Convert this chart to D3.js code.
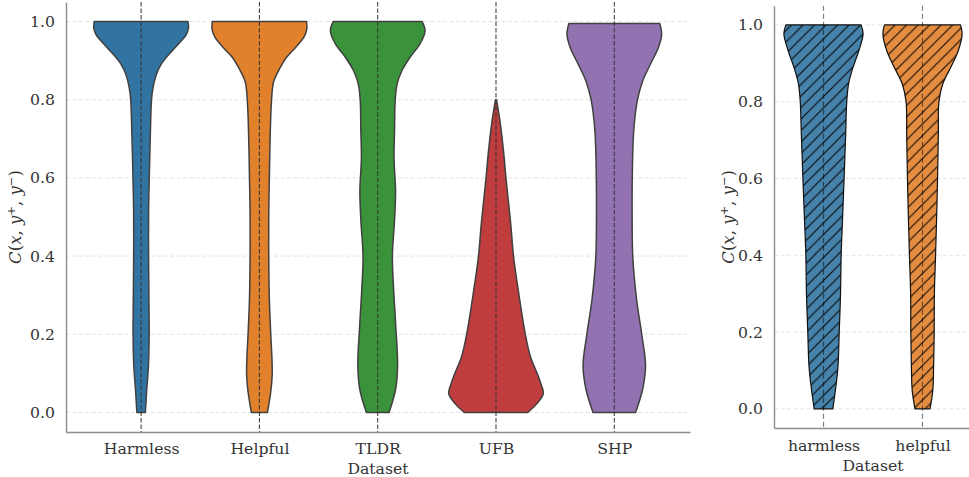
<!DOCTYPE html>
<html>
<head>
<meta charset="utf-8">
<script src="https://cdn.jsdelivr.net/npm/d3@7"></script>
<style>
  body { margin: 0; background: #fff; }
  svg { display: block; }
  text { font-family: "DejaVu Serif", serif; }
</style>
</head>
<body>
<svg id="chart" width="969" height="477"></svg>
<script>
// ---------------- data ----------------
const leftCategories = ["Harmless", "Helpful", "TLDR", "UFB", "SHP"];
const rightCategories = ["harmless", "helpful"];
const yTicks = [0.0, 0.2, 0.4, 0.6, 0.8, 1.0];

// Density profiles: [C value, density relative to the widest point of the violin]
const harmlessDensity = [[0.00,0.09],[0.06,0.12],[0.12,0.155],[0.20,0.17],[0.29,0.165],[0.40,0.158],[0.51,0.158],[0.60,0.172],[0.72,0.197],[0.80,0.22],[0.83,0.25],[0.864,0.32],[0.89,0.42],[0.915,0.58],[0.94,0.77],[0.966,0.95],[0.983,1.0],[1.0,0.99]];
const helpfulDensity = [[0.00,0.17],[0.053,0.24],[0.096,0.27],[0.137,0.265],[0.20,0.24],[0.29,0.21],[0.40,0.197],[0.506,0.197],[0.60,0.21],[0.72,0.23],[0.80,0.257],[0.846,0.30],[0.88,0.43],[0.908,0.57],[0.933,0.76],[0.96,0.94],[0.98,1.0],[1.0,0.995]];
const tldrDensity = [[0.00,0.24],[0.06,0.38],[0.12,0.42],[0.224,0.38],[0.318,0.335],[0.40,0.31],[0.49,0.355],[0.566,0.377],[0.65,0.345],[0.72,0.356],[0.80,0.37],[0.84,0.41],[0.874,0.51],[0.908,0.68],[0.942,0.89],[0.976,1.0],[1.0,0.94]];
const ufbDensity = [[0.00,0.67],[0.022,0.86],[0.048,1.0],[0.073,0.95],[0.10,0.87],[0.142,0.73],[0.20,0.62],[0.313,0.47],[0.40,0.37],[0.484,0.31],[0.60,0.21],[0.655,0.17],[0.74,0.09],[0.80,0.01]];
const shpDensity = [[0.00,0.45],[0.06,0.60],[0.12,0.66],[0.20,0.58],[0.29,0.47],[0.40,0.39],[0.506,0.377],[0.60,0.38],[0.72,0.41],[0.80,0.49],[0.848,0.60],[0.89,0.76],[0.933,0.93],[0.967,1.0],[0.995,0.96]];

const harmlessPairDensity = [[0.00,0.235],[0.048,0.30],[0.108,0.364],[0.20,0.397],[0.30,0.43],[0.40,0.446],[0.50,0.483],[0.60,0.52],[0.716,0.56],[0.80,0.587],[0.846,0.632],[0.889,0.744],[0.932,0.89],[0.976,1.0],[1.0,0.95]];
const helpfulPairDensity = [[0.00,0.19],[0.048,0.26],[0.108,0.28],[0.20,0.295],[0.30,0.30],[0.40,0.33],[0.50,0.357],[0.60,0.38],[0.716,0.40],[0.80,0.415],[0.846,0.51],[0.889,0.71],[0.932,0.90],[0.976,1.0],[1.0,0.96]];

const leftDensities = [harmlessDensity, helpfulDensity, tldrDensity, ufbDensity, shpDensity];
const rightDensities = [harmlessPairDensity, helpfulPairDensity];
const leftColors = ["#3274A1", "#E1812C", "#3A923A", "#C03D3E", "#9372B2"];
const rightColors = ["#3274A1", "#E1812C"];

// ---------------- drawing ----------------
const svg = d3.select("#chart");
const violinWidth = 0.8;
const textColor = "#333";
const spineColor = "#8c8c8c";
const fontSize = 15.7;

// hatch pattern for the right panel
const defs = svg.append("defs");
const h = 11.5;
defs.append("pattern")
  .attr("id", "hatch")
  .attr("patternUnits", "userSpaceOnUse")
  .attr("width", h).attr("height", h)
  .append("path")
  .attr("d", `M0,${h} L${h},0 M${-h/4},${h/4} L${h/4},${-h/4} M${3*h/4},${5*h/4} L${5*h/4},${3*h/4}`)
  .attr("stroke", "#000").attr("stroke-width", 1).attr("fill", "none");

function yLabel(g, tx, cy) {
  const t = g.append("text")
    .attr("transform", `translate(${tx},${cy}) rotate(-90)`)
    .attr("text-anchor", "middle")
    .attr("font-size", 16.5)
    .attr("fill", textColor);
  t.append("tspan").attr("font-style", "italic").text("C");
  t.append("tspan").text("(");
  t.append("tspan").attr("font-style", "italic").text("x");
  t.append("tspan").text(", ");
  t.append("tspan").attr("font-style", "italic").text("y");
  t.append("tspan").attr("font-size", 11.5).attr("dy", -6.5).text("+");
  t.append("tspan").attr("dy", 6.5).text(", ");
  t.append("tspan").attr("font-style", "italic").text("y");
  t.append("tspan").attr("font-size", 11.5).attr("dy", -6.5).text("\u2212");
  t.append("tspan").attr("dy", 6.5).text(")");
}

function panel(opts) {
  const { xDomain, xRange, yRange, categories, densities, colors, hatched,
          xPad, datasetY, labelX } = opts;
  const x = d3.scaleLinear().domain(xDomain).range(xRange);
  const y = d3.scaleLinear().domain([-0.05, 1.05]).range(yRange);
  const g = svg.append("g");
  const plotRight = xRange[1];

  // horizontal grid
  g.append("g").selectAll("line").data(yTicks).join("line")
    .attr("x1", xRange[0]).attr("x2", plotRight)
    .attr("y1", d => y(d)).attr("y2", d => y(d))
    .attr("stroke", "#e3e3e3").attr("stroke-width", 1)
    .attr("stroke-dasharray", "4,2.5");

  // violins
  categories.forEach((c, i) => {
    const area = d3.area()
      .curve(d3.curveCatmullRom.alpha(0.5))
      .y(d => y(d[0]))
      .x0(d => x(i - violinWidth / 2 * d[1]))
      .x1(d => x(i + violinWidth / 2 * d[1]));
    const dPath = area(densities[i]);
    if (hatched) {
      g.append("path").attr("d", dPath).attr("fill", colors[i]).attr("fill-opacity", 0.9);
      g.append("path").attr("d", dPath).attr("fill", "url(#hatch)");
      g.append("path").attr("d", dPath).attr("fill", "none")
        .attr("stroke", "#111").attr("stroke-width", 1.2).attr("stroke-linejoin", "round");
    } else {
      g.append("path").attr("d", dPath).attr("fill", colors[i])
        .attr("stroke", "#404040").attr("stroke-width", 1.5).attr("stroke-linejoin", "round");
    }
  });

  // dashed centre lines
  g.append("g").selectAll("line").data(categories.map((c, i) => i)).join("line")
    .attr("x1", d => x(d)).attr("x2", d => x(d))
    .attr("y1", yRange[1]).attr("y2", yRange[0])
    .attr("stroke", hatched ? "#000" : "#333")
    .attr("stroke-opacity", hatched ? 0.5 : 1)
    .attr("stroke-width", hatched ? 1.2 : 1)
    .attr("stroke-dasharray", hatched ? "5,3" : "4.5,2");

  // axes
  const yAxis = g.append("g").attr("transform", `translate(${xRange[0]},0)`)
    .call(d3.axisLeft(y).tickValues(yTicks).tickFormat(d3.format(".1f"))
      .tickSize(0).tickPadding(11));
  const xAxis = g.append("g").attr("transform", `translate(0,${yRange[0]})`)
    .call(d3.axisBottom(x).tickValues(categories.map((c, i) => i))
      .tickFormat(i => categories[i]).tickSize(0).tickPadding(xPad));
  [yAxis, xAxis].forEach(a => {
    a.select(".domain").attr("stroke", spineColor).attr("stroke-width", 1.4);
    a.selectAll("text").attr("font-size", fontSize).attr("fill", textColor)
      .attr("font-family", "DejaVu Serif, serif");
  });

  g.append("text")
    .attr("x", (xRange[0] + xRange[1]) / 2).attr("y", datasetY)
    .attr("text-anchor", "middle").attr("font-size", fontSize).attr("fill", textColor)
    .text("Dataset");

  yLabel(g, labelX, (yRange[0] + yRange[1]) / 2);
}

panel({
  xDomain: [-0.635, 4.64], xRange: [66, 690], yRange: [432, 2],
  categories: leftCategories, densities: leftDensities, colors: leftColors,
  hatched: false, xPad: 10.5, datasetY: 474, labelX: 21
});

panel({
  xDomain: [-0.5, 1.5], xRange: [774, 972], yRange: [428, 5.7],
  categories: rightCategories, densities: rightDensities, colors: rightColors,
  hatched: true, xPad: 11.5, datasetY: 471, labelX: 734
});
</script>
</body>
</html>
